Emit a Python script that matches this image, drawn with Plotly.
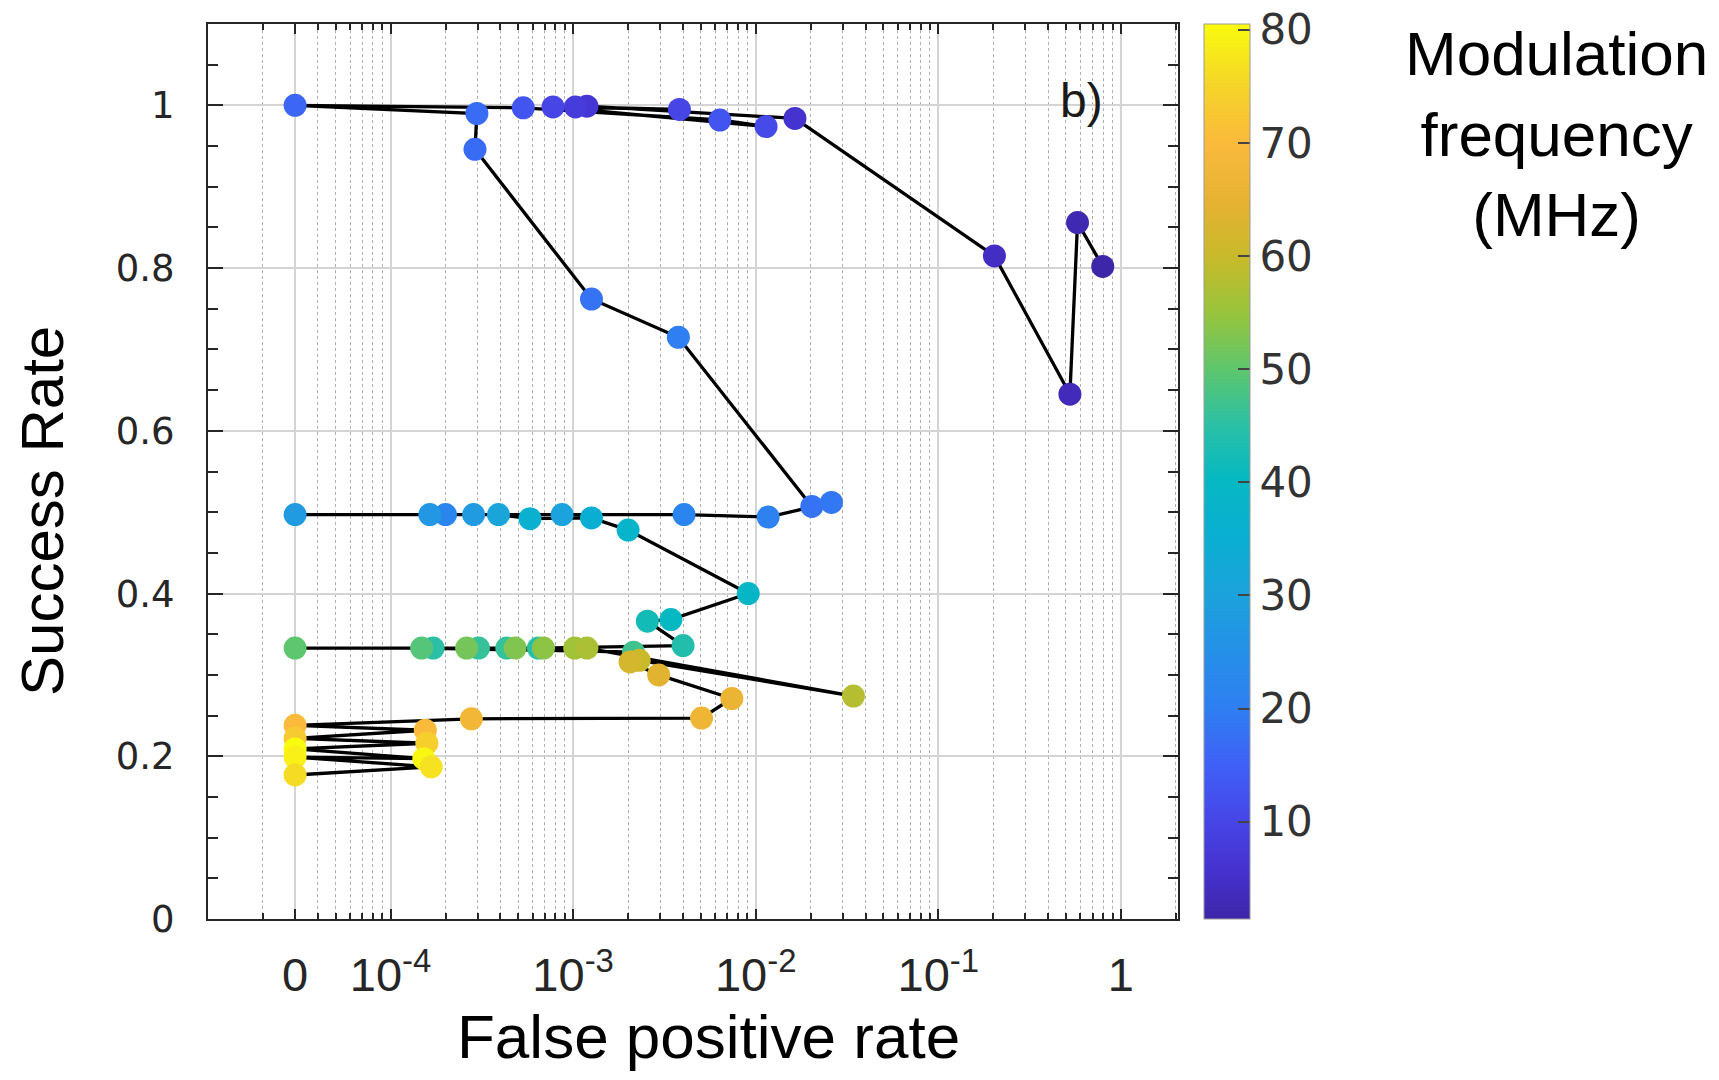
import plotly.graph_objects as go

# ---------------- data ----------------
fpr = [0.796, 0.579, 0.526, 0.203, 1.64e-2, 1.19e-3, 1.03e-3, 3.82e-3, 7.76e-4, 1.14e-2,
       6.36e-3, 5.33e-4, 0, 2.97e-4, 2.9e-4, 1.26e-3, 3.77e-3, 2.03e-2, 2.6e-2, 1.17e-2,
       4.05e-3, 2.0e-4, 1.64e-4, 0, 2.85e-4, 8.7e-4, 3.9e-4, 5.8e-4, 1.26e-3, 2.0e-3,
       9.1e-3, 3.43e-3, 2.55e-3, 4.0e-3, 6.45e-4, 1.71e-4, 4.33e-4, 3.03e-4, 2.14e-3, 1.48e-4,
       0, 2.61e-4, 4.81e-4, 6.88e-4, 1.02e-3, 1.19e-3, 3.43e-2, 2.3e-3, 2.05e-3, 2.94e-3,
       7.4e-3, 5.05e-3, 2.77e-4, 0, 1.55e-4, 0, 1.58e-4, 0, 1.52e-4, 0,
       1.67e-4, 0]
success = [0.802, 0.856, 0.645, 0.815, 0.984, 0.999, 0.998, 0.995, 0.998, 0.974,
           0.982, 0.997, 1.0, 0.990, 0.946, 0.762, 0.715, 0.507, 0.512, 0.494,
           0.497, 0.497, 0.497, 0.497, 0.497, 0.497, 0.497, 0.492, 0.493, 0.478,
           0.400, 0.368, 0.366, 0.336, 0.333, 0.333, 0.333, 0.333, 0.328, 0.333,
           0.333, 0.333, 0.333, 0.333, 0.333, 0.333, 0.274, 0.318, 0.316, 0.300,
           0.271, 0.247, 0.246, 0.238, 0.232, 0.222, 0.216, 0.209, 0.197, 0.199,
           0.187, 0.177]
freq_mhz = [1.4, 2.5, 3.5, 4.5, 6, 7, 8, 10, 10, 11,
            13, 13, 16, 17, 17, 18, 20, 18, 19, 21,
            22, 22, 27, 28, 28, 30, 31, 36, 35, 38,
            39, 40, 42, 44, 45, 45, 46, 46, 47, 49,
            50, 52, 53, 54, 56, 57, 58, 60, 62, 64,
            66, 67, 68, 70, 70, 73, 74, 80.5, 80, 79,
            77, 76]

x_tick_vals = [3e-5, 1e-4, 1e-3, 1e-2, 1e-1, 1]
x_tick_text = ["0", "10<sup>-4</sup>", "10<sup>-3</sup>", "10<sup>-2</sup>", "10<sup>-1</sup>", "1"]
y_tick_vals = [0, 0.2, 0.4, 0.6, 0.8, 1.0]
cbar_ticks = [10, 20, 30, 40, 50, 60, 70, 80]

ZERO_POS = 3e-5  # where a false positive rate of exactly 0 is drawn on the log axis
x_plot = [v if v > 0 else ZERO_POS for v in fpr]

# parula-like colour scale
parula = [
    [0.00, "#3e26a8"], [0.05, "#4530cc"], [0.109, "#4745e6"], [0.172, "#3f60f6"],
    [0.235, "#2f7ef2"], [0.30, "#2590e8"], [0.362, "#1ca2dc"], [0.425, "#0aaed2"],
    [0.49, "#05b8c2"], [0.55, "#2ac0a6"], [0.614, "#5ec66e"], [0.677, "#98c43c"],
    [0.74, "#c8ba2a"], [0.80, "#e6b232"], [0.867, "#fbba3c"], [0.93, "#f5d42a"],
    [1.00, "#f9fb0e"],
]

minor_x = []
for e in range(-5, 1):
    for m in range(2, 10):
        v = m * 10.0 ** e
        if v != ZERO_POS and v < 2.06:
            minor_x.append(v)

L, R, T, B = 208, 541, 24, 161
W, H = 1719, 1080
PW = W - L - R
PH = H - T - B

fig = go.Figure()
fig.add_trace(go.Scatter(
    x=x_plot, y=success, mode="lines+markers",
    line=dict(color="black", width=3.3),
    marker=dict(size=23, color=freq_mhz, colorscale=parula, cmin=1.4, cmax=80.5,
                line=dict(width=0), showscale=True,
                colorbar=dict(x=(1204 - L) / PW, xanchor="left", y=0.5, yanchor="middle",
                              len=1, lenmode="fraction", thickness=46, thicknessmode="pixels",
                              xpad=0, ypad=0, outlinewidth=1, outlinecolor="#9a9a9a",
                              tickvals=cbar_ticks, ticks="inside", ticklen=12,
                              tickcolor="#444444", tickwidth=1.5,
                              tickfont=dict(family="DejaVu Sans", size=42, color="#333333"))),
    showlegend=False, hoverinfo="skip",
))

axis_common = dict(showline=True, linecolor="#262626", linewidth=2, mirror="allticks",
                   ticks="inside", tickcolor="#262626", zeroline=False)

fig.update_xaxes(type="log", range=[-5, 0.313], tickvals=x_tick_vals, ticktext=x_tick_text,
                 ticklen=10, tickwidth=1.5, showgrid=True, gridcolor="#d4d4d4", gridwidth=1.5,
                 tickfont=dict(family="Liberation Sans, Arial", size=47, color="#262626"),
                 ticklabelstandoff=14,
                 minor=dict(tickvals=minor_x, ticks="inside", ticklen=6, tickcolor="#262626",
                            showgrid=True, gridcolor="#b0b0b0", griddash="dot", gridwidth=1.2),
                 **axis_common)
fig.update_yaxes(range=[0, 1.1], tickvals=y_tick_vals, ticklen=15, tickwidth=1.5,
                 showgrid=True, gridcolor="#d4d4d4", gridwidth=1.5,
                 tickfont=dict(family="DejaVu Sans", size=37, color="#262626"),
                 ticklabelstandoff=24,
                 minor=dict(dtick=0.05, ticks="inside", ticklen=10, tickcolor="#262626",
                            showgrid=False),
                 **axis_common)

fig.add_annotation(x=-0.213, y=1.006, xref="x", yref="y", text="b)", showarrow=False,
                   xanchor="center", yanchor="middle",
                   font=dict(family="Liberation Sans, Arial", size=48, color="#1a1a1a"))
fig.add_annotation(x=(708 - L) / PW, y=(H - B - 1036) / PH, xref="paper", yref="paper",
                   text="False positive rate", showarrow=False,
                   xanchor="center", yanchor="middle",
                   font=dict(family="Liberation Sans, Arial", size=62, color="black"))
fig.add_annotation(x=(42 - L) / PW, y=(H - B - 511) / PH, xref="paper", yref="paper",
                   text="Success Rate", textangle=-90, showarrow=False,
                   xanchor="center", yanchor="middle",
                   font=dict(family="Liberation Sans, Arial", size=60, color="black"))
fig.add_annotation(x=(1556 - L) / PW, y=(H - B - 134) / PH, xref="paper", yref="paper",
                   text="Modulation<br>frequency<br>(MHz)", showarrow=False, align="center",
                   xanchor="center", yanchor="middle",
                   font=dict(family="Liberation Sans, Arial", size=62, color="black"))

fig.update_layout(width=W, height=H, margin=dict(l=L, r=R, t=T, b=B, autoexpand=False),
                  paper_bgcolor="white", plot_bgcolor="white")

fig.write_html("out.html", config={"displayModeBar": False},
               post_script="document.body.style.margin='0';document.body.style.overflow='hidden';")
